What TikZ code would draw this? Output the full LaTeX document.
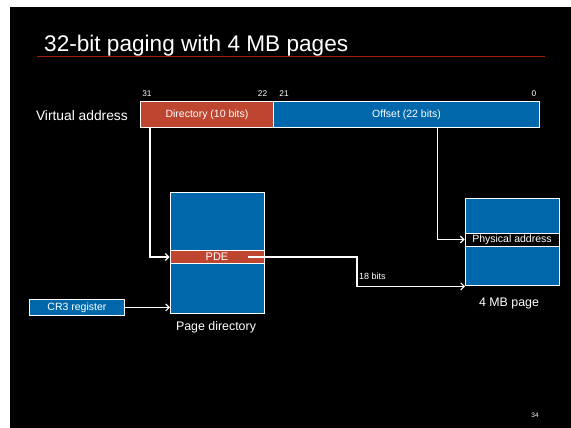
\documentclass[tikz,border=0pt]{standalone}
\usepackage{fontspec}
\setmainfont{Liberation Sans}
\usetikzlibrary{arrows.meta,positioning}
\definecolor{slideblue}{RGB}{0,104,170}
\definecolor{slidered}{RGB}{190,70,48}
\definecolor{rulered}{RGB}{165,32,12}
\tikzset{
  field/.style={draw=white,line width=0.9pt,text=white,inner sep=0pt,font=\fontsize{10.5}{12}\selectfont},
  bluefield/.style={field,fill=slideblue},
  redfield/.style={field,fill=slidered},
  wire/.style={draw=white,line width=1.1pt,-{Straight Barb[length=3.5pt,width=7pt]}},
  caption/.style={text=white,font=\fontsize{12.4}{14}\selectfont,inner sep=0pt},
  bitno/.style={text=white,font=\fontsize{8.3}{10}\selectfont,inner sep=0pt},
}
\begin{document}
\begin{tikzpicture}[x=1pt,y=-1pt]
  % page margin and slide background
  \fill[white] (0,0) rectangle (571,428);
  \fill[black] (10,7) rectangle (571,428);
  \useasboundingbox (0,0) rectangle (571,428);

  % title with its rule
  \node[anchor=base west,text=white,inner sep=0pt,font=\fontsize{22.6}{26}\selectfont] (title) at (44,52) {32-bit paging with 4 MB pages};
  \draw[draw=rulered,line width=1.5pt] (37,56.7) -- (545,56.7);

  % virtual address fields
  \node[redfield,minimum width=133pt,minimum height=26pt,anchor=north west] (dir) at (140,101) {Directory (10 bits)};
  \node[bluefield,minimum width=266pt,minimum height=26pt,anchor=north west] (off) at (273,101) {Offset (22 bits)};
  \node[caption,anchor=east,font=\fontsize{13.8}{16}\selectfont] (va) at (128,116) {Virtual address};
  \node[bitno] (b31) at (147,94) {31};
  \node[bitno] (b22) at (262.5,94) {22};
  \node[bitno] (b21) at (284,94) {21};
  \node[bitno] (b0) at (534,94) {0};

  % page directory
  \node[bluefield,minimum width=94pt,minimum height=121pt,anchor=north west] (pd) at (170,192) {};
  \node[redfield,minimum width=94pt,minimum height=13pt,font=\fontsize{11}{12}\selectfont] (pde) at (217,257) {PDE};
  \node[caption] (pdlbl) at (216,327) {Page directory};

  % 4 MB page
  \node[bluefield,minimum width=94pt,minimum height=87pt,anchor=north west] (pg) at (465,198) {};
  \node[field,fill=black,minimum width=94pt,minimum height=13pt] (phys) at (512,239.5) {Physical address};
  \node[caption] (pglbl) at (509,304) {4 MB page};

  % CR3 register
  \node[bluefield,minimum width=95pt,minimum height=16pt,anchor=north west] (cr3) at (29,299) {CR3 register};

  % connectors
  \coordinate (kink) at (357,257);
  \draw[wire] ([xshift=10pt]dir.south west) |- (pde.west);
  \draw[wire] ([xshift=31pt]off.south) |- (phys.west);
  \draw[wire] (cr3.east) -- (cr3.east -| pd.west);
  \draw[wire] ([xshift=-16pt]pde.east) -- (kink) |- ([yshift=-0.5pt]pg.south west);
  \node[bitno,anchor=base west,font=\fontsize{9}{10}\selectfont] (bits) at (359,279) {18 bits};

  % slide number
  \node[bitno,font=\fontsize{6.5}{7}\selectfont] (num) at (535,415) {34};
\end{tikzpicture}
\end{document}
